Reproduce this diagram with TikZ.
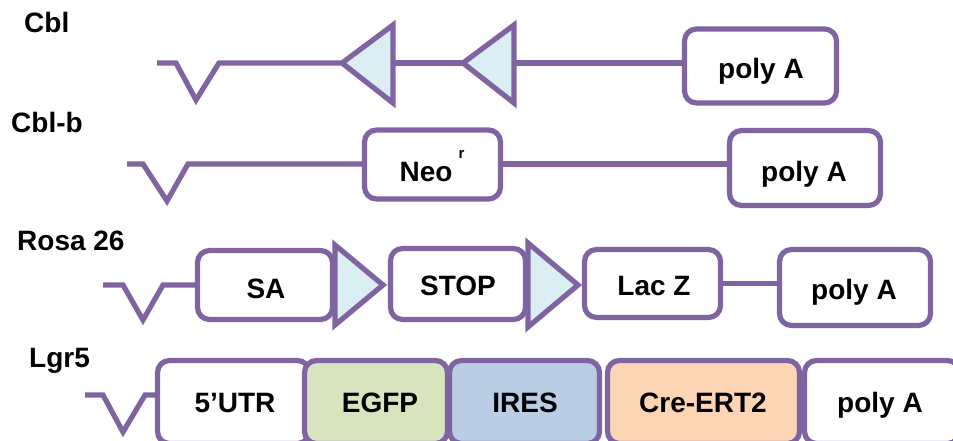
\documentclass[tikz,border=0pt]{standalone}
\usepackage{fontspec}
\setmainfont{Liberation Sans}
\definecolor{pur}{HTML}{8064A2}
\definecolor{tri}{HTML}{DAEEF3}
\definecolor{egfp}{HTML}{D7E4BD}
\definecolor{ires}{HTML}{B9CDE5}
\definecolor{cre}{HTML}{FCD5B5}
\begin{document}
\begin{tikzpicture}[x=1pt,y=-1pt,
  font=\bfseries\fontsize{28}{30}\selectfont,
  wire/.style={draw=pur,line width=5.2pt,line join=miter},
  genebox/.style={draw=pur,line width=5.2pt,rounded corners=12pt,fill=white,inner sep=0pt,rectangle},
  lox/.style={draw=pur,line width=5.2pt,fill=tri,line join=miter},
  lbl/.style={anchor=base,inner sep=0pt},
  rowlbl/.style={anchor=base west,inner sep=0pt}]
\useasboundingbox (0,0) rectangle (953,441);
\clip (0,0) rectangle (953,441);
\fill[white] (0,0) rectangle (953,441);

% row labels
\node[rowlbl] (lcbl) at (24,33) {Cbl};
\node[rowlbl] (lcblb) at (11,133) {Cbl-b};
\node[rowlbl] (lrosa) at (17,250) {Rosa 26};
\node[rowlbl] (llgr) at (29,367) {Lgr5};

% ---------- Row 1: Cbl ----------
\node[genebox,minimum width=152pt,minimum height=74pt] (pa1) at (760.5,66) {};
\node[lbl] (tpa1) at (761,79) {poly A};
\coordinate (r1s) at (157,63);
\coordinate (r1a) at (176,63);
\coordinate (r1b) at (196,100);
\coordinate (r1c) at (219,63);
\coordinate (t1tip) at (342,63);
\coordinate (t1top) at (393,25);
\coordinate (t1bot) at (393,103);
\coordinate (t1base) at (393,63);
\coordinate (t2tip) at (463,63);
\coordinate (t2top) at (514,25);
\coordinate (t2bot) at (514,103);
\coordinate (t2base) at (514,63);
\draw[wire] (r1s) -- (r1a) -- (r1b) -- (r1c) -- (t1tip);
\draw[wire] (t1base) -- (t2tip);
\draw[wire] (t2base) -- (pa1.west |- t2base);
\draw[lox] (t1tip) -- (t1top) -- (t1bot) -- cycle;
\draw[lox] (t2tip) -- (t2top) -- (t2bot) -- cycle;

% ---------- Row 2: Cbl-b ----------
\coordinate (r2s) at (127,164);
\coordinate (r2a) at (143,164);
\coordinate (r2b) at (167,201);
\coordinate (r2c) at (188,164);
\node[genebox,minimum width=136pt,minimum height=69pt] (neo) at (432.5,164.5) {};
\node[genebox,minimum width=151pt,minimum height=75pt] (pa2) at (805,168) {};
\draw[wire] (r2s) -- (r2a) -- (r2b) -- (r2c) -- (neo.west |- r2c);
\draw[wire] (neo.east |- r2c) -- (pa2.west |- r2c);
\node[lbl] (tneo) at (432,182) {Neo\hspace{6pt}\raisebox{24pt}{\fontsize{15}{15}\selectfont r}};
\node[lbl] (tpa2) at (804,182) {poly A};

% ---------- Row 3: Rosa 26 ----------
\coordinate (r3s) at (103,285);
\coordinate (r3a) at (123,285);
\coordinate (r3b) at (143,320);
\coordinate (r3c) at (163,285);
\node[genebox,minimum width=135pt,minimum height=69pt] (sa) at (265,285) {};
\node[genebox,minimum width=135pt,minimum height=71pt] (stop) at (458,284) {};
\node[genebox,minimum width=136pt,minimum height=68pt] (lacz) at (652.5,283.5) {};
\node[genebox,minimum width=151pt,minimum height=76pt] (pa3) at (855,287.5) {};
\draw[wire] (r3s) -- (r3a) -- (r3b) -- (r3c) -- (sa.west);
\draw[wire] (lacz.east) -- (pa3.west |- lacz.east);
\coordinate (u1top) at (335,245);
\coordinate (u1tip) at (383,285);
\coordinate (u1bot) at (335,325);
\coordinate (u2top) at (528,243);
\coordinate (u2tip) at (578,285);
\coordinate (u2bot) at (528,327);
\draw[lox] (u1top) -- (u1tip) -- (u1bot) -- cycle;
\draw[lox] (u2top) -- (u2tip) -- (u2bot) -- cycle;
\node[lbl] (tsa) at (266,298) {SA};
\node[lbl] (tstop) at (458,295) {STOP};
\node[lbl] (tlac) at (654,295) {Lac Z};
\node[lbl] (tpa3) at (854,299) {poly A};

% ---------- Row 4: Lgr5 ----------
\coordinate (r4s) at (85,395);
\coordinate (r4a) at (103,395);
\coordinate (r4b) at (123,432);
\coordinate (r4c) at (145,395);
\coordinate (r4e) at (157,395);
\draw[wire] (r4s) -- (r4a) -- (r4b) -- (r4c) -- (r4e);
\node[genebox,minimum width=152pt,minimum height=83pt] (utr) at (233.5,402) {};
\node[genebox,fill=egfp,minimum width=143pt,minimum height=83pt] (egfp) at (376,402) {};
\node[genebox,fill=ires,minimum width=150pt,minimum height=83pt] (ires) at (524.5,402) {};
\node[genebox,fill=cre,minimum width=192pt,minimum height=83pt] (cre) at (703.5,402) {};
\node[genebox,minimum width=155pt,minimum height=83pt] (pa4) at (882,402) {};
\node[lbl] (tutr) at (235,412) {5’UTR};
\node[lbl] (tegfp) at (380,412) {EGFP};
\node[lbl] (tires) at (525,412) {IRES};
\node[lbl] (tcre) at (703,412) {Cre-ERT2};
\node[lbl] (tpa4) at (880,412) {poly A};
\end{tikzpicture}
\end{document}
